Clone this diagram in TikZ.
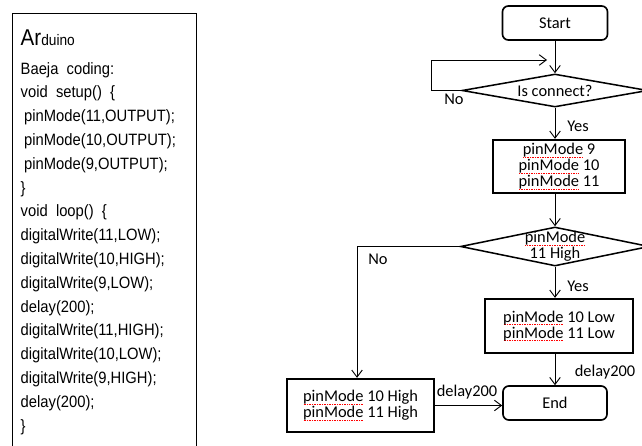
\documentclass[tikz,border=0pt]{standalone}
\usepackage{fontspec}
\usetikzlibrary{shapes.geometric, arrows.meta}
\newfontfamily\codefont[FakeStretch=0.9]{Liberation Sans}
\newfontfamily\flowfont{Carlito}
% red spell-check dots under a word
\newsavebox\spellbox
\newcommand\spell[1]{\sbox\spellbox{#1}\rlap{\color{red}\raisebox{-2.4pt}{\hbox to \wd\spellbox{\xleaders\hbox to 1.4pt{\hss\rule{0.7pt}{0.6pt}\hss}\hfill}}}\usebox\spellbox}

\begin{document}
\begin{tikzpicture}[
            x=0.03cm, y=-0.03cm,
            code_line/.style={anchor=base west, inner sep=0pt, font=\codefont\fontsize{14pt}{16pt}\selectfont},
            terminal/.style={draw, rounded corners=5pt, line width=1.4pt, minimum width=3.12cm, minimum height=1.02cm, inner sep=0pt, font=\flowfont\fontsize{14pt}{13.8pt}\selectfont},
            decision/.style={diamond, draw, line width=1.3pt, inner sep=0pt},
            process/.style={draw, line width=2pt, inner sep=0pt, align=center, font=\flowfont\fontsize{14pt}{13.8pt}\selectfont},
            label_text/.style={inner sep=0pt, align=center, font=\flowfont\fontsize{14pt}{13.8pt}\selectfont},
            line/.style={draw, line width=0.8pt},
            arrow/.style={line, -{Straight Barb[length=6pt, width=9pt]}}
        ]
        \useasboundingbox (0,0) rectangle (642,445);
        \clip (0,0) rectangle (642,445);

        % Code listing
        \node[draw, line width=0.8pt, anchor=north west, minimum width=5.52cm, minimum height=14cm, inner sep=0pt] (codebox) at (12,13) {};
        \node[code_line] (c_title) at (20.5,45) {\fontsize{19.5pt}{20pt}\selectfont Ar\fontsize{13pt}{14pt}\selectfont duino};
        \node[code_line] (c0) at (20.5,74) {Baeja\ \ coding:};
        \node[code_line] (c1) at (20.5,97.8) {void\ \ setup()\ \ \{};
        \node[code_line] (c2) at (24,121.6) {pinMode(11,OUTPUT);};
        \node[code_line] (c3) at (24,145.4) {pinMode(10,OUTPUT);};
        \node[code_line] (c4) at (24,169.2) {pinMode(9,OUTPUT);};
        \node[code_line] (c5) at (20.5,193) {\}};
        \node[code_line] (c6) at (20.5,216.8) {void\ \ loop()\ \ \{};
        \node[code_line] (c7) at (20.5,240.6) {digitalWrite(11,LOW);};
        \node[code_line] (c8) at (20.5,264.4) {digitalWrite(10,HIGH);};
        \node[code_line] (c9) at (20.5,288.2) {digitalWrite(9,LOW);};
        \node[code_line] (c10) at (20.5,312) {delay(200);};
        \node[code_line] (c11) at (20.5,335.8) {digitalWrite(11,HIGH);};
        \node[code_line] (c12) at (20.5,359.6) {digitalWrite(10,LOW);};
        \node[code_line] (c13) at (20.5,383.4) {digitalWrite(9,HIGH);};
        \node[code_line] (c14) at (20.5,407.2) {delay(200);};
        \node[code_line] (c15) at (20.5,431) {\}};

        % Flowchart - start and connection check
        \node[terminal, minimum width=3.15cm] (start) at (555,23) {Start};
        \node[decision, minimum width=5.58cm, minimum height=0.99cm] (conn) at (555,90.5) {};
        \node[label_text] at (conn.center) {Is connect?};
        \coordinate (loop_end) at (547,60);
        \node[label_text] (no_conn) at (454,99) {No};
        \node[label_text] (yes_conn) at (578,126) {Yes};

        % Setup box
        \node[process, minimum width=3.96cm, minimum height=1.59cm] (setup) at (559,166.5) {\spell{pinMode} 9\\\spell{pinMode} 10\\\spell{pinMode} 11};

        % Pin test
        \node[decision, minimum width=5.67cm, minimum height=1.17cm] (test) at (555,246.5) {};
        \node[label_text] at (test.center) {\spell{pinMode}\\11 High};
        \coordinate (no_turn) at (357,246.5);
        \node[label_text] (no_test) at (378,259) {No};
        \node[label_text] (yes_test) at (578,286) {Yes};

        % Output boxes
        \node[process, minimum width=4.44cm, minimum height=1.62cm] (low) at (559,326) {\spell{pinMode} 10 Low\\\spell{pinMode} 11 Low};
        \node[process, minimum width=4.41cm, minimum height=1.59cm] (high) at (360.5,405.5) {\spell{pinMode} 10 High\\\spell{pinMode} 11 High};

        % End
        \node[terminal] (end) at (555,403) {End};
        \node[label_text] (delay_low) at (605,372) {delay200};
        \node[label_text] (delay_high) at (467,392) {delay200};

        \draw[arrow] (start) -- (conn);
        \draw[arrow] (conn.west) -- ++(-30,0) |- (loop_end);
        \draw[arrow] (conn.south) -- (conn.south |- setup.north);
        \draw[arrow] (test.north |- setup.south) -- (test.north);
        \draw[arrow] (test.south) -- (test.south |- low.north);
        \draw[arrow] (test.west) -- (no_turn) -- (no_turn |- high.north);
        \draw[arrow] (end.north |- low.south) -- (end.north);
        \draw[arrow] (high.east) -- (high.east -| end.west);

    \end{tikzpicture}
\end{document}
